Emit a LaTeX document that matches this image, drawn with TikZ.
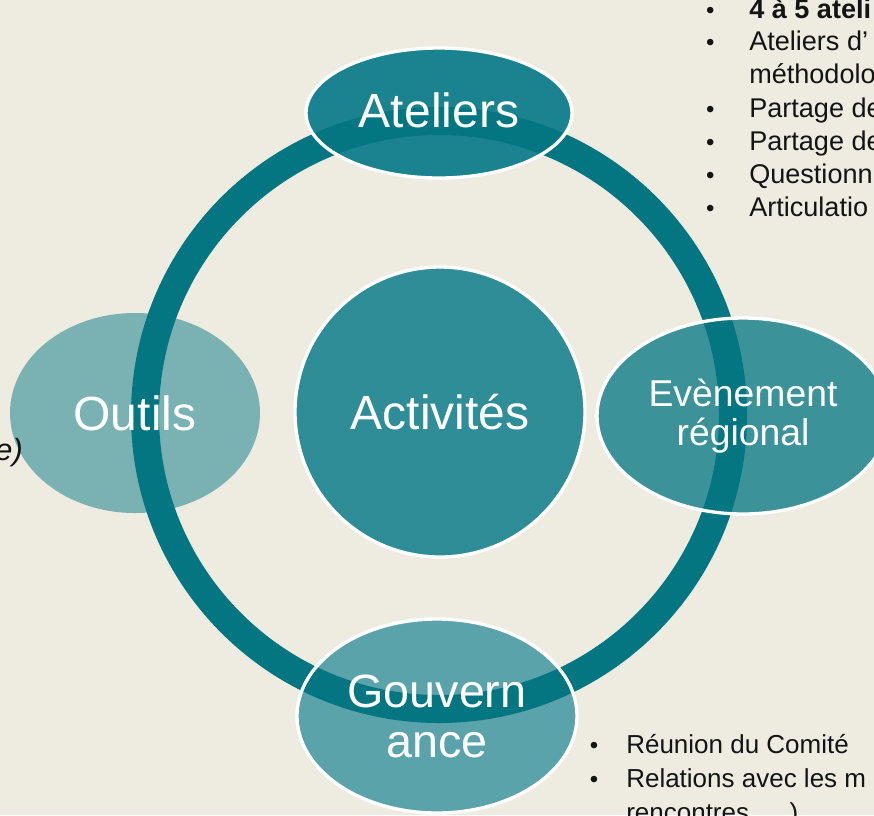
\documentclass[tikz,border=0pt]{standalone}
\usepackage{fontspec}
\setmainfont{Liberation Sans}
\usepackage{xcolor}
\usepackage{tikz}
\usetikzlibrary{shapes.geometric}
\definecolor{B0}{HTML}{EEEBE1}
\definecolor{R0}{HTML}{037682}
\definecolor{E1}{HTML}{1B8390}
\definecolor{E2}{HTML}{2F8D98}
\definecolor{E3}{HTML}{7AB2B4}
\definecolor{E4}{HTML}{3B9399}
\definecolor{E5}{HTML}{5BA3AA}
\definecolor{T0}{HTML}{141414}
\tikzstyle{blob} = [ellipse, inner sep=0pt, outer sep=0pt]
\tikzstyle{rim} = [blob, draw=white, line width=2.5pt, text=white, align=center]
\tikzstyle{bigtext} = [font=\fontsize{36}{43}\selectfont]
\tikzstyle{item} = [anchor=base west, inner sep=0pt, font=\fontsize{20.3}{24}\selectfont, text=T0]
\tikzstyle{subitem} = [anchor=base west, inner sep=0pt, font=\fontsize{19.5}{23}\selectfont, text=T0]
\tikzstyle{bullet} = [anchor=base, inner sep=0pt, font=\fontsize{18}{22}\selectfont, text=T0]

\begin{document}
\begin{tikzpicture}[x=0.75pt, y=-0.75pt]
	\useasboundingbox (0,0) rectangle (874,815) ;
	\clip (0,0) rectangle (874,815) ;
	\fill[B0] (0,0) rectangle (874,815) ;
	
	\foreach \n/\x/\y/\w/\h/\c in {ate/439/113/199.5pt/97.5pt/E1, act/440/412/217.5pt/217.5pt/E2, out/135/413/187.5pt/150pt/E3, eve/743/416/219pt/147pt/E4, gov/437/716/210pt/145.5pt/E5}
	{
		\node[blob, fill=\c, minimum width=\w, minimum height=\h] (\n) at (\x,\y) {} ;
	}
	
	\coordinate (hub) at (439,415) ;
	\draw[R0, line width=21pt] (hub) circle[radius=294] ;
	
	\node[rim, bigtext, minimum width=199.5pt, minimum height=97.5pt] (ateT) at (ate) {\raisebox{5pt}{Ateliers}} ;
	\node[rim, bigtext, minimum width=217.5pt, minimum height=217.5pt] (actT) at (act) {Activités} ;
	\node[rim, bigtext, draw=none, minimum width=187.5pt, minimum height=150pt] (outT) at (out) {Outils} ;
	\node[rim, font=\fontsize{28}{29.5}\selectfont, minimum width=219pt, minimum height=147pt] (eveT) at (eve) {Evènement\\régional} ;
	\node[rim, font=\fontsize{35}{37.5}\selectfont, minimum width=210pt, minimum height=145.5pt] (govT) at (gov) {Gouvern\\ance} ;
	
	\node[item] (r1) at (749,18) {\textbf{4 à 5 ateli}} ;
	\node[item] (r2) at (749,50) {Ateliers d’} ;
	\node[item] (r3) at (749,83) {méthodolo} ;
	\node[item] (r4) at (749,117) {Partage de} ;
	\node[item] (r5) at (749,150) {Partage de} ;
	\node[item] (r6) at (749,183) {Questionn} ;
	\node[item] (r7) at (749,216) {Articulatio} ;
	
	\node[subitem] (s1) at (626,753) {Réunion du Comité} ;
	\node[subitem] (s2) at (626,787) {Relations avec les m} ;
	\node[subitem] (s3) at (626,821) {rencontres, …)} ;
	
	\foreach \n in {r1, r2, r4, r5, r6, r7}
	{
		\node[bullet] (\n b) at ([xshift=-29pt]\n.base west) {•} ;
	}
	\foreach \n in {s1, s2}
	{
		\node[bullet] (\n b) at ([xshift=-24pt]\n.base west) {•} ;
	}
	
	\node[item, anchor=base east, font=\fontsize{23}{27}\selectfont\itshape] (lft) at (23,460) {e)} ;
\end{tikzpicture}
\end{document}
